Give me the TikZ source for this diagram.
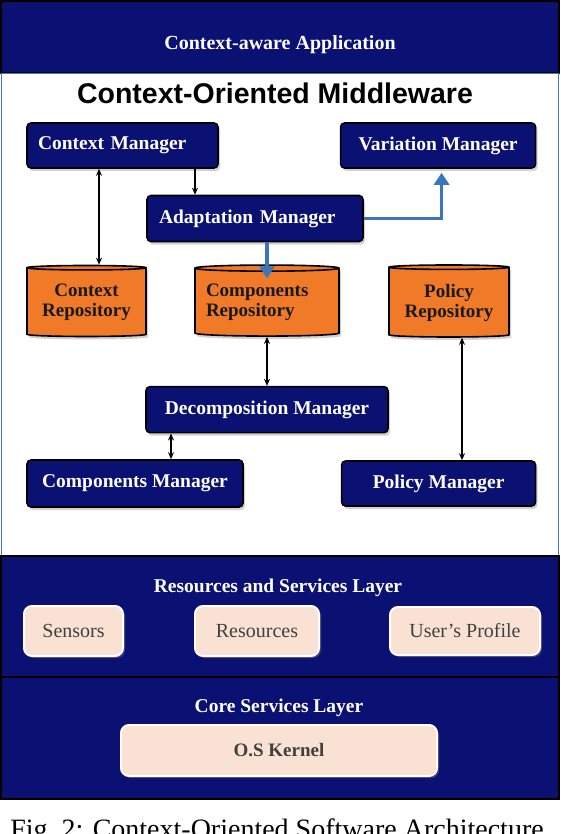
\documentclass[tikz,border=0pt]{standalone}
\usepackage{fontspec}
\setmainfont{Liberation Serif}
\newfontfamily\headfont{Liberation Sans}
\usepackage{tikz}
\usetikzlibrary{arrows.meta}
\usetikzlibrary{positioning,shapes.geometric,shadows}
\definecolor{navy}{RGB}{10,17,115}
\definecolor{repoorange}{RGB}{240,122,40}
\definecolor{peach}{RGB}{249,226,211}
\definecolor{flowblue}{RGB}{58,117,190}
\definecolor{frameblue}{RGB}{75,120,185}
\tikzset{
	x=1pt, y=-1pt,
	every path/.style = {line width=1.4pt},
	every node/.style = {inner sep=0pt}
}

\begin{document}
\begin{tikzpicture}[manager/.style={draw=black,line width=1.6pt,fill=navy,rounded corners=4pt,text=white,font=\fontsize{19.5}{21}\selectfont\bfseries,drop shadow={shadow xshift=2pt,shadow yshift=-3pt,opacity=0.35}},
	repo/.style={cylinder,shape border rotate=90,aspect=0.05,draw=black,line width=1.6pt,fill=repoorange,text=black!90,align=center,font=\fontsize{19}{20}\selectfont\bfseries,drop shadow={shadow xshift=2pt,shadow yshift=-3pt,opacity=0.35}},
	service/.style={draw=white,line width=2pt,fill=peach,rounded corners=8pt,text=black!75,font=\fontsize{20}{22}\selectfont,drop shadow={shadow xshift=2pt,shadow yshift=-2pt,opacity=0.4}},
	layer/.style={draw=black,line width=2pt,fill=navy,minimum width=558pt,text=white,font=\fontsize{20}{22}\selectfont\bfseries},
	layertitle/.style={text=white,font=\fontsize{19.5}{21}\selectfont\bfseries},
	link/.style={-{Stealth[length=7pt,width=6pt]},line width=1.5pt},
	dlink/.style={{Stealth[length=7pt,width=6pt]}-{Stealth[length=7pt,width=6pt]},line width=1.5pt},
	flow/.style={-{Triangle[length=12pt,width=15pt]},draw=flowblue,line width=3.5pt}]
	\useasboundingbox (0,0) rectangle (560,834);
	\node (app) [layer, minimum height=72pt, text height=27pt, text depth=2pt] at (280,37) {Context-aware Application};
	\node (mw) [draw=frameblue, line width=1.5pt, fill=white, minimum width=557pt, minimum height=482pt] at (280,314.5) {};
	\node (res) [layer, minimum height=121pt] at (280,616.5) {};
	\node (core) [layer, minimum height=122pt] at (280,738) {};
	\node (mwtitle) [font=\headfont\fontsize{28.5}{30}\selectfont\bfseries] at (275,93) {Context-Oriented Middleware};
	\node (cm) [manager, minimum width=191pt, minimum height=45pt, text width=169pt, align=left] at (122.5,145.5) {Context Manager};
	\node (vm) [manager, minimum width=195pt, minimum height=45pt, right=121pt of cm] {Variation Manager};
	\node (am) [manager, minimum width=216pt, minimum height=46pt, text width=192pt, align=left] at (255,218.5) {Adaptation Manager};
	\node (ctx) [repo, minimum width=119pt, minimum height=71pt] at (86.5,302.5) {Context\\Repository};
	\node (crep) [repo, minimum width=144pt, minimum height=71pt, text width=122pt, align=left] at (267,302.5) {Components\\Repository};
	\node (prepo) [repo, minimum width=120pt, minimum height=72pt] at (449,302.5) {Policy\\Repository};
	\node (dm) [manager, minimum width=242pt, minimum height=46pt, below=49pt of crep] {Decomposition Manager};
	\node (cmgr) [manager, minimum width=216pt, minimum height=47pt] at (135,483.5) {Components Manager};
	\node (pm) [manager, minimum width=194pt, minimum height=45pt, right=97pt of cmgr] {Policy Manager};
	\node (restitle) [layertitle] at (278,588) {Resources and Services Layer};
	\node (sens) [service, minimum width=99pt, minimum height=50pt] at (73.5,631) {Sensors};
	\node (resc) [service, minimum width=124pt, minimum height=50pt, right=70pt of sens] {Resources};
	\node (prof) [service, minimum width=150pt, minimum height=48pt, right=69pt of resc] {User's Profile};
	\node (coretitle) [layertitle] at (279,708) {Core Services Layer};
	\node (kern) [service, minimum width=316pt, minimum height=51pt, font=\fontsize{19}{21}\selectfont\bfseries] at (279,750.5) {O.S Kernel};
	\node (caption) [anchor=base, font=\fontsize{28}{30}\selectfont] at (277,838) {Fig.~2: Context-Oriented Software Architecture};
	\draw[link] ([xshift=72.5pt]cm.south) -- ([xshift=72.5pt]cm.south |- am.north);
	\draw[dlink] ([xshift=-23.5pt]cm.south) -- ([xshift=-23.5pt]cm.south |- ctx.north);
	\draw[flow, shorten >=4pt] (am.east) -| ([xshift=3.5pt]vm.south);
	\draw[flow, shorten >=-14pt] ([xshift=12pt]am.south) -- (crep.north);
	\draw[dlink] (crep.south) -- (dm.north);
	\draw[dlink] ([xshift=-96pt]dm.south) -- ([xshift=-96pt]dm.south |- cmgr.north);
	\draw[dlink] ([xshift=13pt]prepo.south) -- ([xshift=13pt]prepo.south |- pm.north);
\end{tikzpicture}
\end{document}
